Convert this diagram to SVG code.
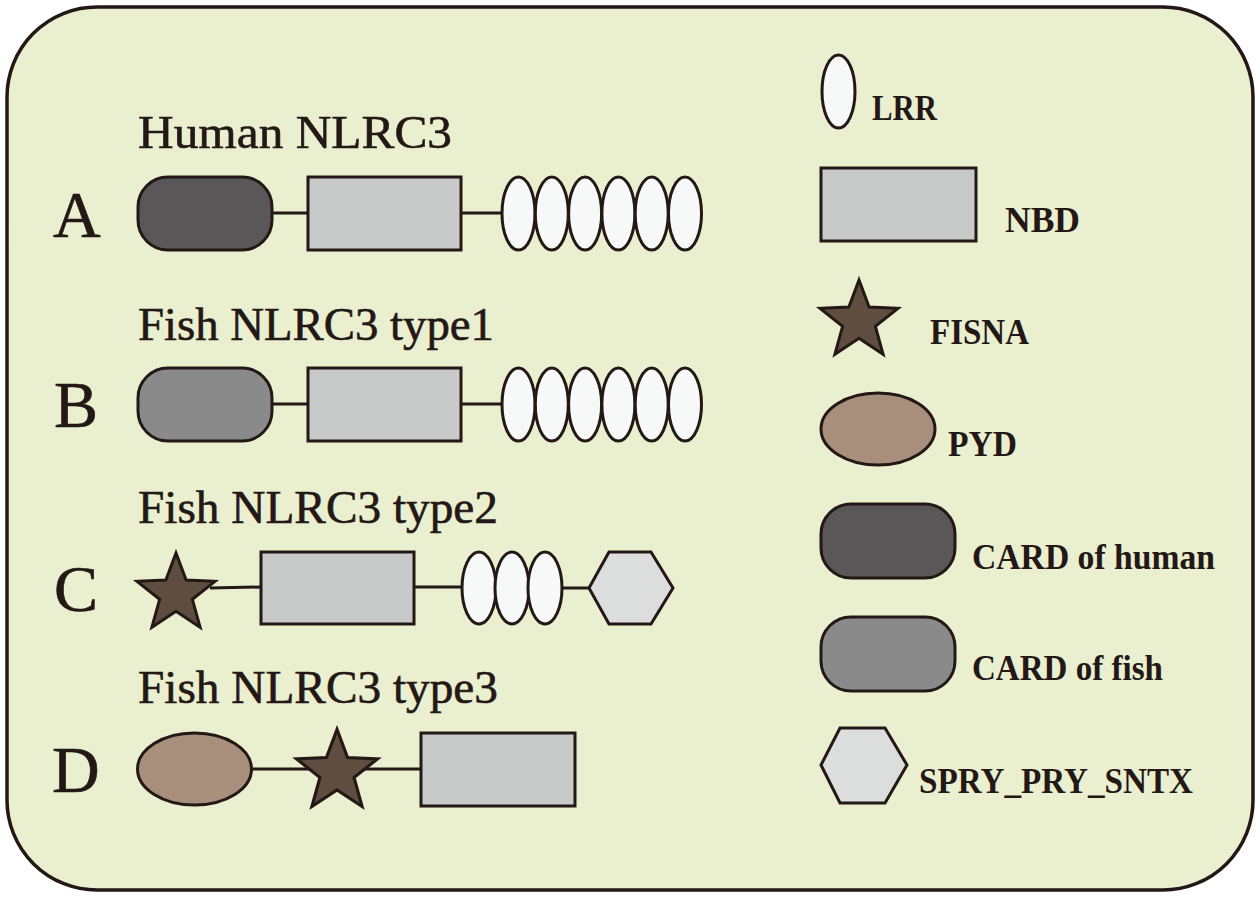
<svg xmlns="http://www.w3.org/2000/svg" xmlns:xlink="http://www.w3.org/1999/xlink" width="1260" height="897" viewBox="0 0 1260 897">
<style>
.ln{stroke:#231815;stroke-width:3;fill:none}
.sh{stroke:#231815;stroke-width:3}
.ch{fill:#5a5758}
.cf{fill:#8a8a8a}
.nbd{fill:#c8cac9}
.lrr{fill:#f7f9f8}
.fis{fill:#5f4e40}
.pyd{fill:#a78f7c}
.hex{fill:#dcdddd}
.title{font-family:"Liberation Serif",serif;font-size:47px;fill:#231815;stroke:#231815;stroke-width:0.6}
.big{font-family:"Liberation Serif",serif;font-size:66px;fill:#231815;stroke:#231815;stroke-width:0.6}
.leg{font-family:"Liberation Serif",serif;font-weight:bold;font-size:35px;fill:#231815}
</style>
<defs>
<path id="star" d="M0,-41 L10.12,-13.93 L39,-12.67 L16.38,5.32 L24.1,33.17 L0,17.22 L-24.1,33.17 L-16.38,5.32 L-39,-12.67 L-10.12,-13.93 Z"/>
</defs>
<rect x="7" y="7" width="1246" height="883" rx="90" ry="90" fill="#eaefd0" stroke="#231815" stroke-width="3.5"/>

<g id="connectors">
<line class="ln" x1="272" y1="213" x2="308" y2="213"/>
<line class="ln" x1="461" y1="213" x2="503" y2="213"/>
<line class="ln" x1="272" y1="404" x2="308" y2="404"/>
<line class="ln" x1="461" y1="404" x2="503" y2="404"/>
<line class="ln" x1="210" y1="588" x2="261" y2="587"/>
<line class="ln" x1="414" y1="587" x2="463" y2="587"/>
<line class="ln" x1="561" y1="588" x2="590" y2="588"/>
<line class="ln" x1="251" y1="769" x2="421" y2="769"/>
</g>

<g id="rowA">
<text class="big" x="53" y="237">A</text>
<text class="title" x="138" y="148" textLength="314" lengthAdjust="spacingAndGlyphs">Human NLRC3</text>
<rect id="A-card" class="sh ch" x="138" y="177" width="134" height="73" rx="30" ry="30"/>
<rect id="A-nbd" class="sh nbd" x="308" y="177" width="153" height="73"/>
<g id="A-lrr" class="sh lrr">
<ellipse cx="518.5" cy="213.5" rx="16.5" ry="36.5"/>
<ellipse cx="551.8" cy="213.5" rx="16.5" ry="36.5"/>
<ellipse cx="585.1" cy="213.5" rx="16.5" ry="36.5"/>
<ellipse cx="618.4" cy="213.5" rx="16.5" ry="36.5"/>
<ellipse cx="651.7" cy="213.5" rx="16.5" ry="36.5"/>
<ellipse cx="685" cy="213.5" rx="16.5" ry="36.5"/>
</g>
</g>

<g id="rowB">
<text class="big" x="54" y="427">B</text>
<text class="title" x="138" y="340" textLength="356" lengthAdjust="spacingAndGlyphs">Fish NLRC3 type1</text>
<rect id="B-card" class="sh cf" x="138" y="368" width="134" height="73" rx="30" ry="30"/>
<rect id="B-nbd" class="sh nbd" x="308" y="368" width="153" height="73"/>
<g id="B-lrr" class="sh lrr">
<ellipse cx="518.5" cy="404.5" rx="16.5" ry="36.5"/>
<ellipse cx="551.8" cy="404.5" rx="16.5" ry="36.5"/>
<ellipse cx="585.1" cy="404.5" rx="16.5" ry="36.5"/>
<ellipse cx="618.4" cy="404.5" rx="16.5" ry="36.5"/>
<ellipse cx="651.7" cy="404.5" rx="16.5" ry="36.5"/>
<ellipse cx="685" cy="404.5" rx="16.5" ry="36.5"/>
</g>
</g>

<g id="rowC">
<text class="big" x="54" y="611">C</text>
<text class="title" x="138" y="523" textLength="360" lengthAdjust="spacingAndGlyphs">Fish NLRC3 type2</text>
<use id="C-fisna" xlink:href="#star" class="sh fis" transform="translate(176,594)"/>
<rect id="C-nbd" class="sh nbd" x="261" y="552" width="153" height="72"/>
<g id="C-lrr" class="sh lrr">
<ellipse cx="479" cy="588" rx="17" ry="36"/>
<ellipse cx="512" cy="588" rx="17" ry="36"/>
<ellipse cx="545" cy="588" rx="17" ry="36"/>
</g>
<polygon id="C-spry" class="sh hex" points="589,588 609,552 651,552 673,588 651,624 609,624"/>
</g>

<g id="rowD">
<text class="big" x="52" y="792">D</text>
<text class="title" x="138" y="703" textLength="360" lengthAdjust="spacingAndGlyphs">Fish NLRC3 type3</text>
<ellipse id="D-pyd" class="sh pyd" cx="194.5" cy="769" rx="57" ry="36"/>
<use id="D-fisna" xlink:href="#star" class="sh fis" transform="translate(337,772) scale(1.04)"/>
<rect id="D-nbd" class="sh nbd" x="421" y="733" width="154" height="73"/>
</g>

<g id="legend">
<g id="leg-lrr">
<ellipse class="sh lrr" cx="838.5" cy="91.5" rx="16.5" ry="36.5"/>
<text class="leg" x="872" y="120" textLength="65" lengthAdjust="spacingAndGlyphs">LRR</text>
</g>
<g id="leg-nbd">
<rect class="sh nbd" x="821" y="168" width="155" height="73"/>
<text class="leg" x="1005" y="232" textLength="75" lengthAdjust="spacingAndGlyphs">NBD</text>
</g>
<g id="leg-fisna">
<use xlink:href="#star" class="sh fis" transform="translate(859,321)"/>
<text class="leg" x="930" y="344" textLength="99" lengthAdjust="spacingAndGlyphs">FISNA</text>
</g>
<g id="leg-pyd">
<ellipse class="sh pyd" cx="878" cy="429" rx="57" ry="36"/>
<text class="leg" x="948" y="456" textLength="69" lengthAdjust="spacingAndGlyphs">PYD</text>
</g>
<g id="leg-card-human">
<rect class="sh ch" x="821" y="504" width="134" height="74" rx="30" ry="30"/>
<text class="leg" x="972" y="569" textLength="243" lengthAdjust="spacingAndGlyphs">CARD of human</text>
</g>
<g id="leg-card-fish">
<rect class="sh cf" x="821" y="617" width="134" height="74" rx="30" ry="30"/>
<text class="leg" x="972" y="680" textLength="191" lengthAdjust="spacingAndGlyphs">CARD of fish</text>
</g>
<g id="leg-spry">
<polygon class="sh hex" points="821,765 840,728 885,728 907,765 885,803 840,803"/>
<text class="leg" x="919" y="793" textLength="274" lengthAdjust="spacingAndGlyphs">SPRY_PRY_SNTX</text>
</g>
</g>
</svg>
